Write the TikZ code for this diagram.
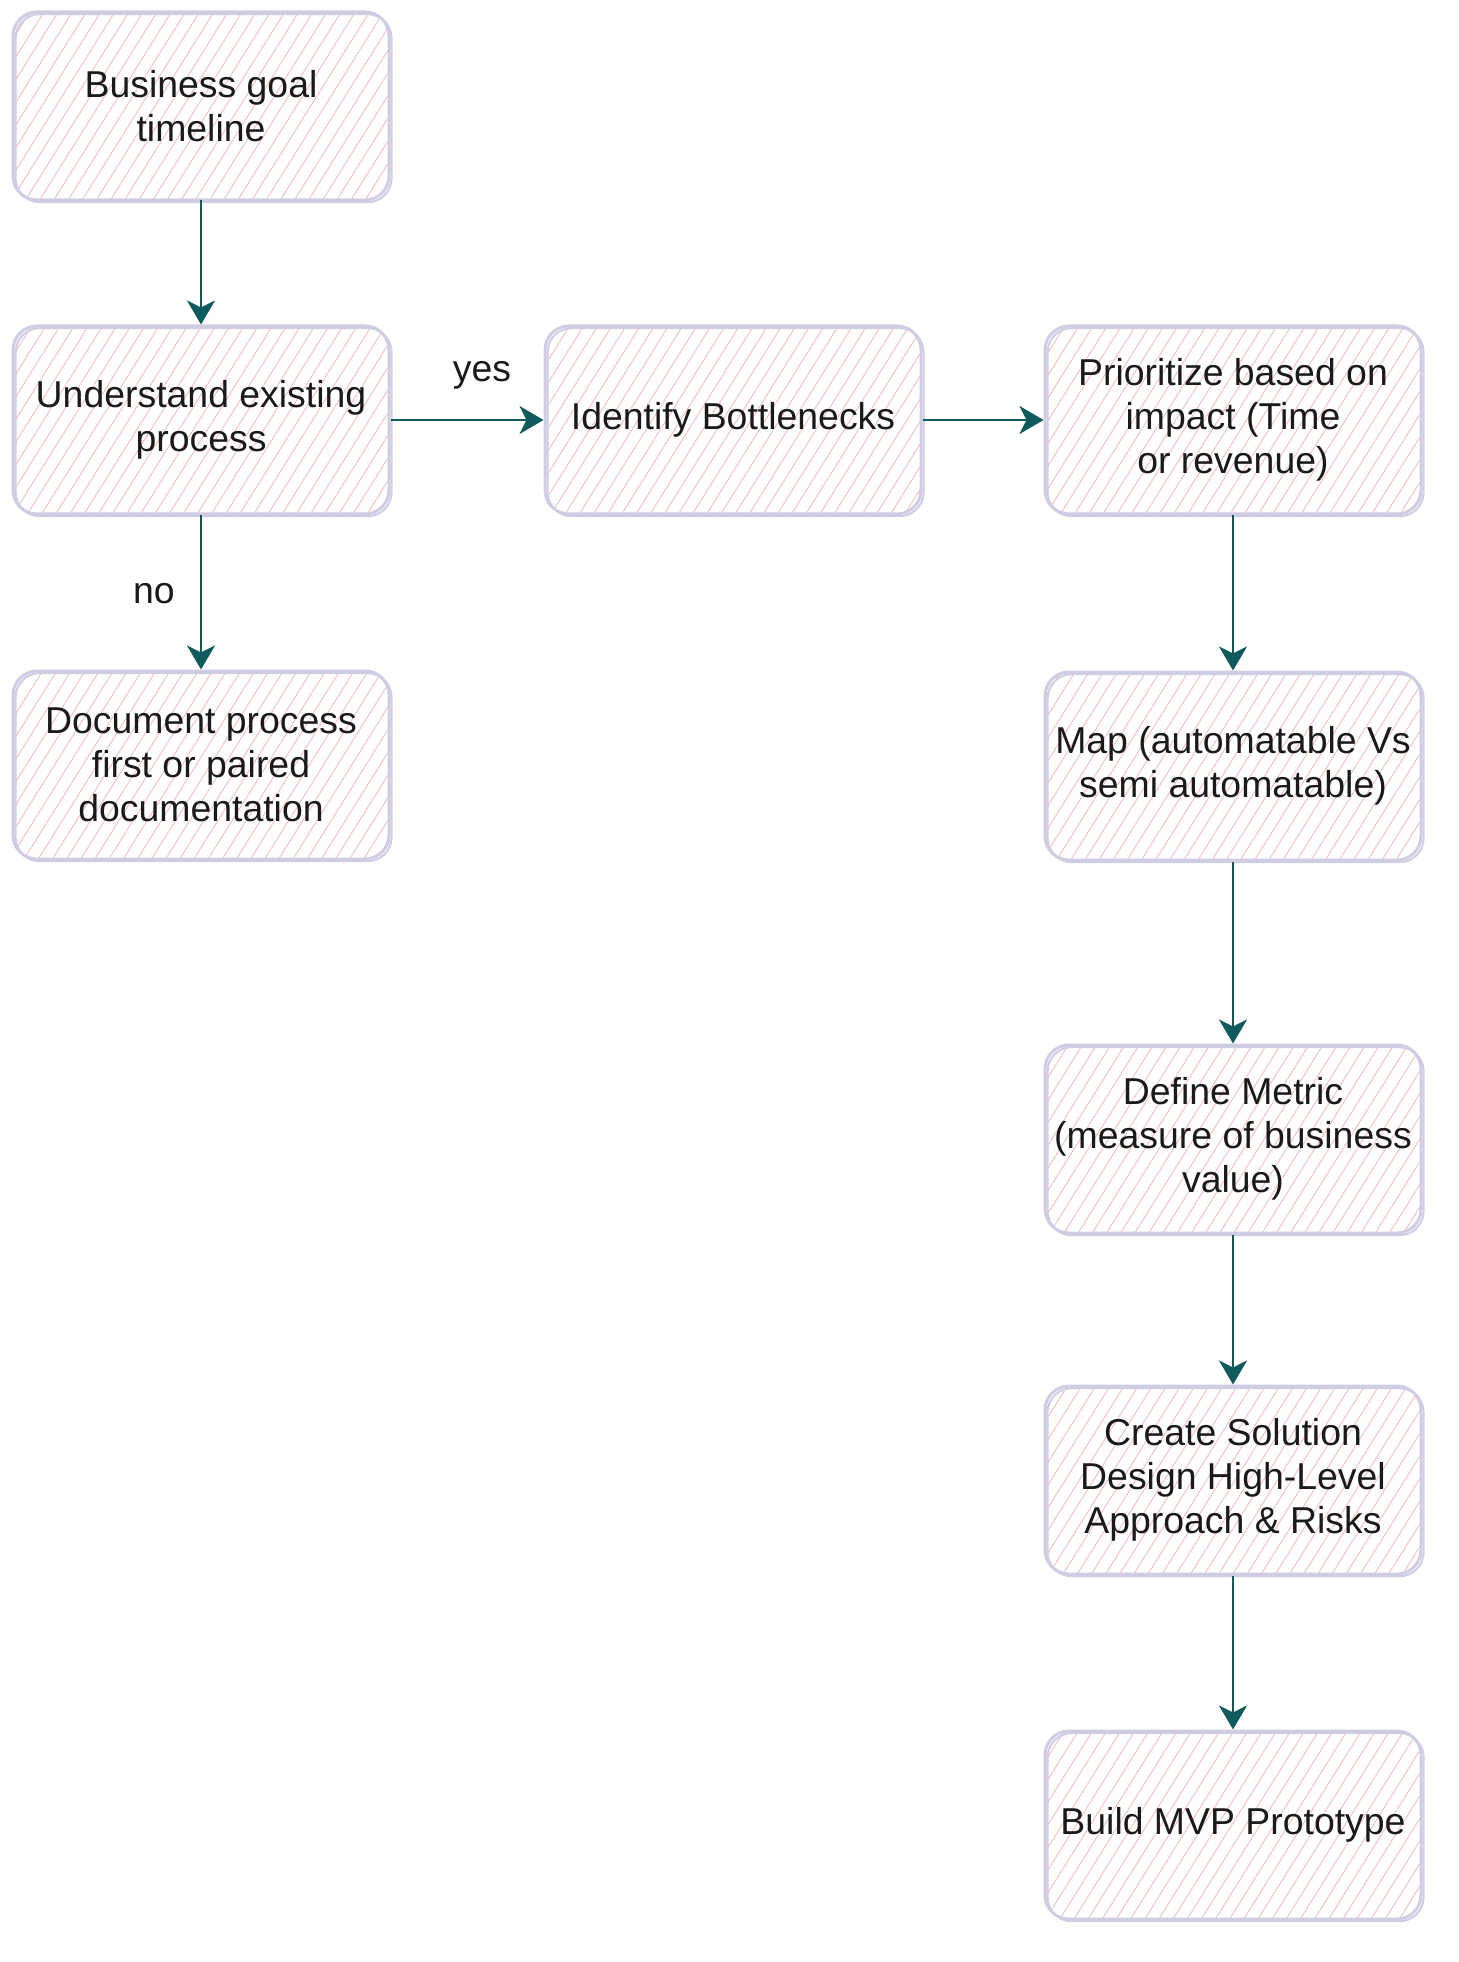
\documentclass[tikz,border=0pt]{standalone}
\usepackage{fontspec}
\setmainfont{Liberation Sans}
\usepackage{tikz}
\usetikzlibrary{arrows.meta,patterns.meta}
\definecolor{Ink}{HTML}{1A1A1A}
\definecolor{Petrol}{HTML}{0E5A5C}
\definecolor{Lilac}{HTML}{CFCDE3}
\definecolor{Blush}{HTML}{F2BDBD}

\tikzset{
  sketchbox/.style={draw=Lilac,line width=1.5pt,rounded corners=12pt,
    minimum width=188pt,minimum height=94pt,align=center,text=Ink,
    font=\fontsize{18.7}{22}\selectfont,
    pattern={Lines[angle=58,distance=6pt,line width=0.45pt]},pattern color=Blush,
    postaction={draw=Lilac,line width=1pt,transform canvas={shift={(1.3pt,-1.1pt)}}}},
  flow/.style={Petrol,line width=1.4pt,-{Stealth[length=12pt,width=14pt,inset=3.5pt]}},
  flowlabel/.style={text=Ink,font=\fontsize{18.7}{22}\selectfont}
}

\begin{document}
\begin{tikzpicture}[x=0.5pt,y=-0.5pt]
  \useasboundingbox (0,0) rectangle (1459,1962);
  % left column
  \node[sketchbox] (goal) at (201,106) {Business goal\\timeline};
  \node[sketchbox] (understand) at (201,420) {Understand existing\\process};
  \node[sketchbox] (document) at (201,765) {Document process\\first or paired\\documentation};
  % middle
  \node[sketchbox] (bottleneck) at (733,420) {Identify Bottlenecks};
  % right column
  \node[sketchbox] (prioritize) at (1233,420) {Prioritize based on\\impact (Time\\or revenue)};
  \node[sketchbox] (mapping) at (1233,766) {Map (automatable Vs\\semi automatable)};
  \node[sketchbox] (metric) at (1233,1139) {Define Metric\\(measure of business\\value)};
  \node[sketchbox] (solution) at (1233,1480) {Create Solution\\Design High-Level\\Approach \& Risks};
  \node[sketchbox] (mvp) at (1233,1825) {Build MVP Prototype};

  \draw[flow] (goal) -- (understand);
  \draw[flow] (understand) -- (bottleneck);
  \node[flowlabel] (yeslbl) at (482,375) {yes};
  \draw[flow] (understand) -- (document);
  \node[flowlabel] (nolbl) at (154,594) {no};
  \draw[flow] (bottleneck) -- (prioritize);
  \draw[flow] (prioritize) -- (mapping);
  \draw[flow] (mapping) -- (metric);
  \draw[flow] (metric) -- (solution);
  \draw[flow] (solution) -- (mvp);
\end{tikzpicture}
\end{document}
